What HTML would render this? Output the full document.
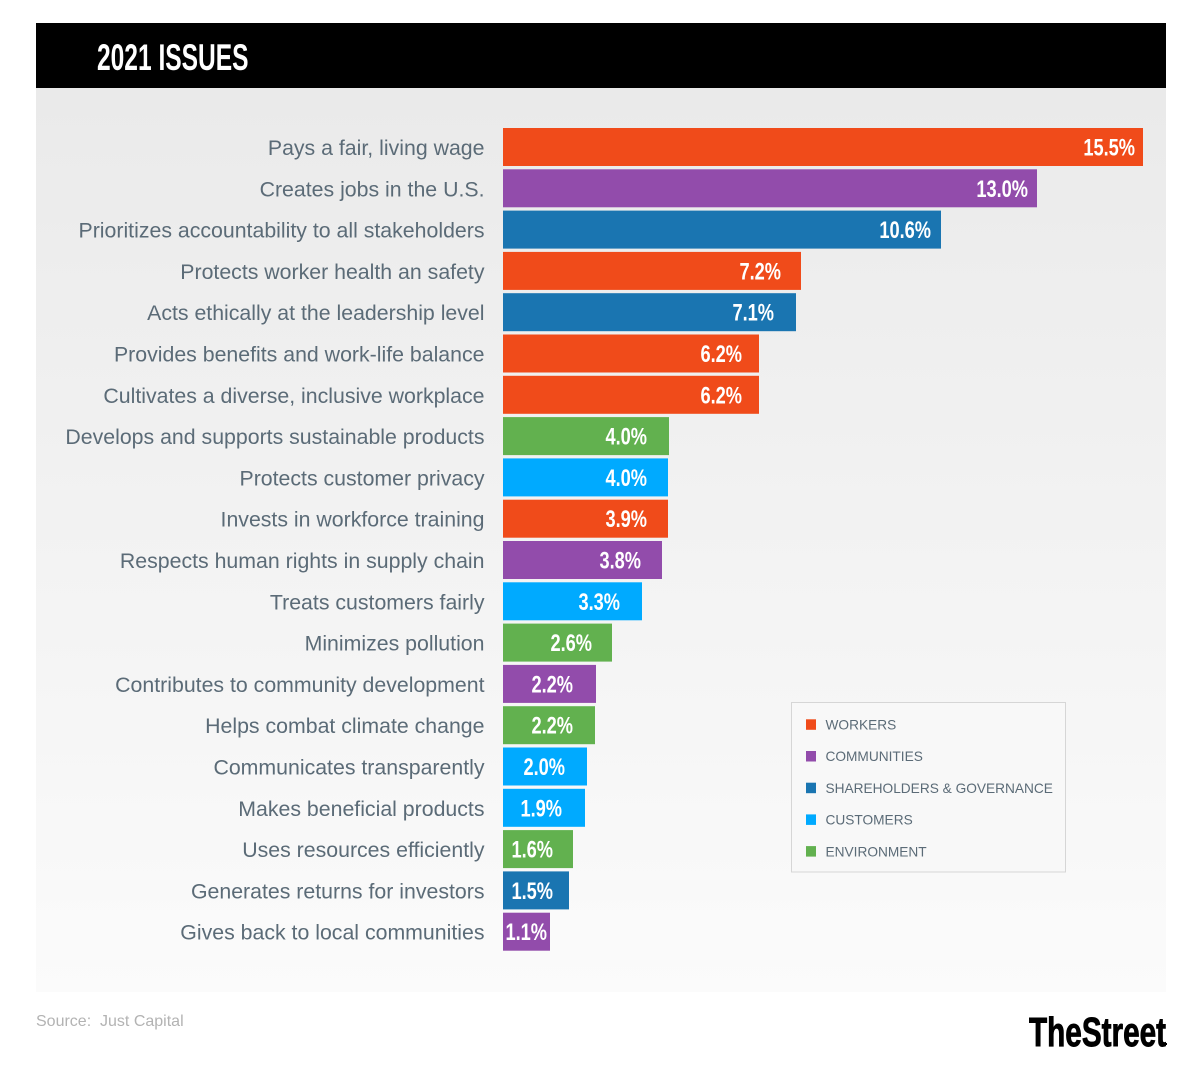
<!DOCTYPE html>
<html><head><meta charset="utf-8"><style>
html,body{margin:0;padding:0;background:#fff;}
svg{display:block;}
</style></head><body>
<svg width="1200" height="1086" viewBox="0 0 1200 1086" xmlns="http://www.w3.org/2000/svg">
<defs>
<linearGradient id="bg" x1="0" y1="0" x2="0" y2="1">
<stop offset="0" stop-color="#eaeaea"/>
<stop offset="1" stop-color="#fbfbfb"/>
</linearGradient>
</defs>
<rect x="0" y="0" width="1200" height="1086" fill="#ffffff"/>
<rect x="36" y="88" width="1130" height="904" fill="url(#bg)"/>
<rect x="36" y="23" width="1130" height="65" fill="#000"/>
<text transform="translate(97,70) scale(0.655,1)" font-family="Liberation Sans, sans-serif" font-weight="bold" font-size="37.5" fill="#fff">2021 ISSUES</text>

<g font-family="Liberation Sans, sans-serif" font-size="21.3" fill="#5b6b77" text-anchor="end">
<text x="484.5" y="155">Pays a fair, living wage</text>
<text x="484.5" y="196.3">Creates jobs in the U.S.</text>
<text x="484.5" y="237.6">Prioritizes accountability to all stakeholders</text>
<text x="484.5" y="278.9">Protects worker health an safety</text>
<text x="484.5" y="320.2">Acts ethically at the leadership level</text>
<text x="484.5" y="361.5">Provides benefits and work-life balance</text>
<text x="484.5" y="402.8">Cultivates a diverse, inclusive workplace</text>
<text x="484.5" y="444.1">Develops and supports sustainable products</text>
<text x="484.5" y="485.4">Protects customer privacy</text>
<text x="484.5" y="526.7">Invests in workforce training</text>
<text x="484.5" y="568">Respects human rights in supply chain</text>
<text x="484.5" y="609.3">Treats customers fairly</text>
<text x="484.5" y="650.6">Minimizes pollution</text>
<text x="484.5" y="691.9">Contributes to community development</text>
<text x="484.5" y="733.2">Helps combat climate change</text>
<text x="484.5" y="774.5">Communicates transparently</text>
<text x="484.5" y="815.8">Makes beneficial products</text>
<text x="484.5" y="857.1">Uses resources efficiently</text>
<text x="484.5" y="898.4">Generates returns for investors</text>
<text x="484.5" y="939.7">Gives back to local communities</text>
</g>

<g>
<rect x="503" y="128" width="640" height="38" fill="#f04b1a"/>
<rect x="503" y="169.3" width="534" height="38" fill="#924cab"/>
<rect x="503" y="210.6" width="438" height="38" fill="#1a75b1"/>
<rect x="503" y="251.9" width="298" height="38" fill="#f04b1a"/>
<rect x="503" y="293.2" width="293" height="38" fill="#1a75b1"/>
<rect x="503" y="334.5" width="256" height="38" fill="#f04b1a"/>
<rect x="503" y="375.8" width="256" height="38" fill="#f04b1a"/>
<rect x="503" y="417.1" width="166" height="38" fill="#62b14f"/>
<rect x="503" y="458.4" width="165" height="38" fill="#00aaff"/>
<rect x="503" y="499.7" width="165" height="38" fill="#f04b1a"/>
<rect x="503" y="541" width="159" height="38" fill="#924cab"/>
<rect x="503" y="582.3" width="139" height="38" fill="#00aaff"/>
<rect x="503" y="623.6" width="109" height="38" fill="#62b14f"/>
<rect x="503" y="664.9" width="93" height="38" fill="#924cab"/>
<rect x="503" y="706.2" width="92" height="38" fill="#62b14f"/>
<rect x="503" y="747.5" width="84" height="38" fill="#00aaff"/>
<rect x="503" y="788.8" width="82" height="38" fill="#00aaff"/>
<rect x="503" y="830.1" width="70" height="38" fill="#62b14f"/>
<rect x="503" y="871.4" width="66" height="38" fill="#1a75b1"/>
<rect x="503" y="912.7" width="47" height="38" fill="#924cab"/>
</g>

<g font-family="Liberation Sans, sans-serif" font-weight="bold" font-size="24" fill="#fff" text-anchor="end">
<text transform="translate(1135,155.5) scale(0.76,1)">15.5%</text>
<text transform="translate(1028,196.8) scale(0.76,1)">13.0%</text>
<text transform="translate(931,238.1) scale(0.76,1)">10.6%</text>
<text transform="translate(781,279.4) scale(0.76,1)">7.2%</text>
<text transform="translate(774,320.7) scale(0.76,1)">7.1%</text>
<text transform="translate(742,362) scale(0.76,1)">6.2%</text>
<text transform="translate(742,403.3) scale(0.76,1)">6.2%</text>
<text transform="translate(647,444.6) scale(0.76,1)">4.0%</text>
<text transform="translate(647,485.9) scale(0.76,1)">4.0%</text>
<text transform="translate(647,527.2) scale(0.76,1)">3.9%</text>
<text transform="translate(641,568.5) scale(0.76,1)">3.8%</text>
<text transform="translate(620,609.8) scale(0.76,1)">3.3%</text>
<text transform="translate(592,651.1) scale(0.76,1)">2.6%</text>
<text transform="translate(573,692.4) scale(0.76,1)">2.2%</text>
<text transform="translate(573,733.7) scale(0.76,1)">2.2%</text>
<text transform="translate(565,775) scale(0.76,1)">2.0%</text>
<text transform="translate(562,816.3) scale(0.76,1)">1.9%</text>
<text transform="translate(553,857.6) scale(0.76,1)">1.6%</text>
<text transform="translate(553,898.9) scale(0.76,1)">1.5%</text>
<text transform="translate(547,940.2) scale(0.76,1)">1.1%</text>
</g>

<rect x="791.5" y="702.5" width="274" height="169.5" fill="#f8f8f8" stroke="#d6d6d6" stroke-width="1"/>
<g font-family="Liberation Sans, sans-serif" font-size="13.7" fill="#5b6b77">
<rect x="806" y="719.3" width="10" height="10.5" fill="#f04b1a"/>
<text x="825.5" y="729.5">WORKERS</text>
<rect x="806" y="751" width="10" height="10.5" fill="#924cab"/>
<text x="825.5" y="761.2">COMMUNITIES</text>
<rect x="806" y="782.7" width="10" height="10.5" fill="#1a75b1"/>
<text x="825.5" y="792.9">SHAREHOLDERS &amp; GOVERNANCE</text>
<rect x="806" y="814.4" width="10" height="10.5" fill="#00aaff"/>
<text x="825.5" y="824.6">CUSTOMERS</text>
<rect x="806" y="846.1" width="10" height="10.5" fill="#62b14f"/>
<text x="825.5" y="856.3">ENVIRONMENT</text>
</g>

<text x="36" y="1026" font-family="Liberation Sans, sans-serif" font-size="16" fill="#b3b3b3" xml:space="preserve">Source:  Just Capital</text>
<text transform="translate(1029,1046) scale(0.725,1)" font-family="Liberation Sans, sans-serif" font-weight="bold" font-size="41" fill="#000" stroke="#000" stroke-width="0.9">TheStreet</text>
<rect x="1165" y="1043" width="2" height="2" fill="#000"/>
</svg>
</body></html>
